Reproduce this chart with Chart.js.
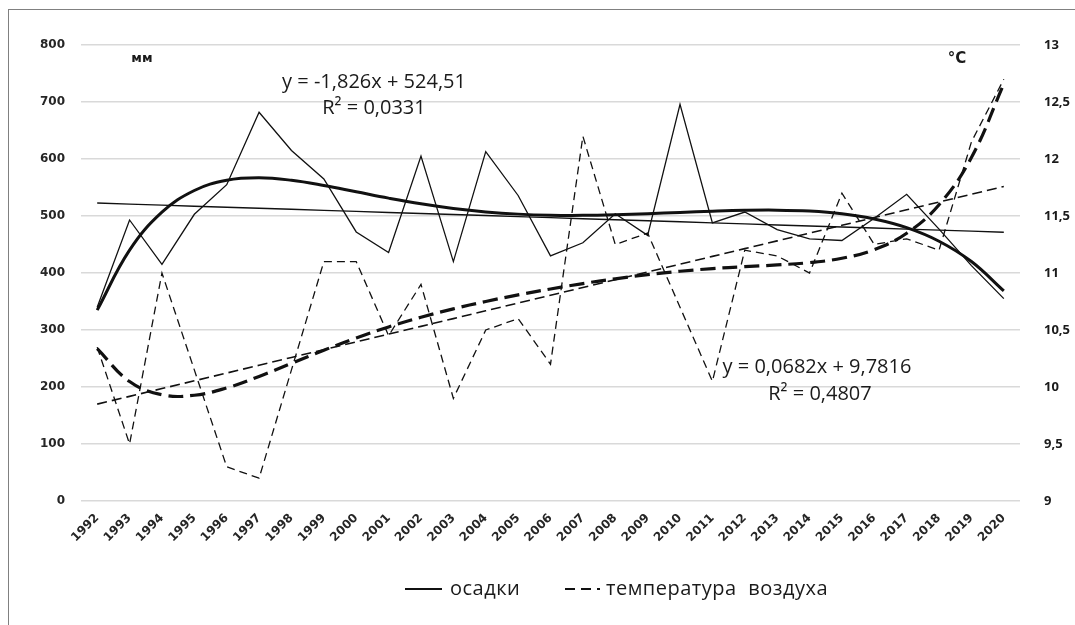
<!DOCTYPE html>
<html>
<head>
<meta charset="utf-8">
<script src="https://cdn.jsdelivr.net/npm/chart.js@4"></script>
<style>
  body { margin: 0; background: #fff; }
  #wrap { position: relative; width: 1075px; height: 625px; overflow: hidden; }
  #frame { position: absolute; left: 8px; top: 9px; width: 1100px; height: 650px; border: 1.5px solid #808080; }
  #myChart { position: absolute; left: 0; top: 0; }
</style>
</head>
<body>
<div id="wrap">
  <div id="frame"></div>
  <canvas id="myChart" width="1075" height="625"></canvas>
</div>
<script>
// years and yearly values
const years = ['1992', '1993', '1994', '1995', '1996', '1997', '1998', '1999', '2000', '2001',
  '2002', '2003', '2004', '2005', '2006', '2007', '2008', '2009', '2010', '2011',
  '2012', '2013', '2014', '2015', '2016', '2017', '2018', '2019', '2020'];
const precipitation = [340, 493, 415, 503, 555, 682, 615, 565, 472, 436,
  605, 420, 613, 536, 430, 453, 504, 466, 696, 488,
  507, 476, 460, 457, 496, 538, 477, 413, 355];
const temperature = [10.35, 9.5, 11.0, 10.15, 9.3, 9.2, 10.15, 11.1, 11.1, 10.45,
  10.9, 9.9, 10.5, 10.6, 10.2, 12.2, 11.25, 11.35, 10.7, 10.05,
  11.2, 11.15, 11.0, 11.7, 11.25, 11.3, 11.2, 12.15, 12.7];

// linear trends (x = 1..29)
const precipLinear = { slope: -1.826, intercept: 524.51, r2: 0.0331 };
const tempLinear = { slope: 0.0682, intercept: 9.7816, r2: 0.4807 };
const polyDegree = 6;

const FONT = '"Open Sans", "DejaVu Sans", sans-serif';

function comma(v) {
  return String(v).replace('.', ',');
}

// least squares polynomial, x scaled to [-1, 1]
function polyFit(xs, ys, deg) {
  const n = xs.length;
  const x0 = (xs[0] + xs[n - 1]) / 2, h = (xs[n - 1] - xs[0]) / 2;
  const m = deg + 1;
  const A = [];
  for (let i = 0; i < m; i++) A.push(new Array(m + 1).fill(0));
  for (let k = 0; k < n; k++) {
    const u = (xs[k] - x0) / h;
    const p = [];
    for (let j = 0; j < m; j++) p.push(Math.pow(u, j));
    for (let i = 0; i < m; i++) {
      for (let j = 0; j < m; j++) A[i][j] += p[i] * p[j];
      A[i][m] += p[i] * ys[k];
    }
  }
  for (let c = 0; c < m; c++) {
    let piv = c;
    for (let r = c + 1; r < m; r++) if (Math.abs(A[r][c]) > Math.abs(A[piv][c])) piv = r;
    const tmp = A[c]; A[c] = A[piv]; A[piv] = tmp;
    for (let r = 0; r < m; r++) {
      if (r === c) continue;
      const f = A[r][c] / A[c][c];
      for (let j = c; j <= m; j++) A[r][j] -= f * A[c][j];
    }
  }
  const coef = A.map((row, i) => row[m] / row[i]);
  return x => {
    const u = (x - x0) / h;
    let s = 0;
    for (let j = 0; j < m; j++) s += coef[j] * Math.pow(u, j);
    return s;
  };
}

const idx = years.map((y, i) => i + 1);
const precipPoly = polyFit(idx, precipitation, polyDegree);
const tempPoly = polyFit(idx, temperature, polyDegree);

const lineBase = { pointRadius: 0, pointHoverRadius: 0, fill: false, borderColor: '#111', backgroundColor: '#111' };

// equation labels, "мм" / "°С" captions and the legend
const extras = {
  id: 'extras',
  afterDraw(chart) {
    const ctx = chart.ctx;
    ctx.save();
    ctx.fillStyle = '#1a1a1a';
    ctx.textAlign = 'center';
    ctx.textBaseline = 'middle';

    ctx.font = 'bold 13px "DejaVu Sans", sans-serif';
    ctx.fillText('мм', 142, 59);
    ctx.font = 'bold 15px "DejaVu Sans", sans-serif';
    ctx.fillText('°С', 957, 59);

    ctx.font = '20px ' + FONT;
    ctx.fillText(`y = ${comma(precipLinear.slope)}x + ${comma(precipLinear.intercept)}`, 374, 82);
    ctx.fillText(`R² = ${comma(precipLinear.r2)}`, 374, 108);
    ctx.fillText(`y = ${comma(tempLinear.slope)}x + ${comma(tempLinear.intercept)}`, 817, 367);
    ctx.fillText(`R² = ${comma(tempLinear.r2)}`, 820, 394);

    // legend
    const ly = 589;
    ctx.strokeStyle = '#111';
    ctx.lineWidth = 2;
    ctx.beginPath(); ctx.moveTo(405, ly); ctx.lineTo(442, ly); ctx.stroke();
    ctx.setLineDash([10, 6]);
    ctx.beginPath(); ctx.moveTo(565, ly); ctx.lineTo(600, ly); ctx.stroke();
    ctx.setLineDash([]);
    ctx.font = '20px ' + FONT;
    ctx.letterSpacing = '0.5px';
    ctx.wordSpacing = '6px';
    ctx.textAlign = 'left';
    ctx.fillText(chart.data.datasets[0].label, 450, ly);
    ctx.fillText(chart.data.datasets[1].label, 606, ly);
    ctx.restore();
  }
};

const ctx = document.getElementById('myChart');
new Chart(ctx, {
  type: 'line',
  data: {
    labels: years,
    datasets: [
      Object.assign({}, lineBase, {
        label: 'осадки', data: precipitation, yAxisID: 'y', borderWidth: 1.3, tension: 0
      }),
      Object.assign({}, lineBase, {
        label: 'температура воздуха', data: temperature, yAxisID: 'y1', borderWidth: 1.3,
        borderDash: [8, 5], tension: 0
      }),
      Object.assign({}, lineBase, {
        label: 'linear precip', data: idx.map(x => precipLinear.slope * x + precipLinear.intercept),
        yAxisID: 'y', borderWidth: 1.4, tension: 0
      }),
      Object.assign({}, lineBase, {
        label: 'linear temp', data: idx.map(x => tempLinear.slope * x + tempLinear.intercept),
        yAxisID: 'y1', borderWidth: 1.6, borderDash: [10, 5], tension: 0
      }),
      Object.assign({}, lineBase, {
        label: 'poly precip', data: idx.map(precipPoly),
        yAxisID: 'y', borderWidth: 3, tension: 0.4
      }),
      Object.assign({}, lineBase, {
        label: 'poly temp', data: idx.map(tempPoly),
        yAxisID: 'y1', borderWidth: 3.2, borderDash: [15, 7], tension: 0.4
      })
    ]
  },
  options: {
    responsive: false,
    animation: false,
    layout: { padding: { top: 45, bottom: 64, left: 0, right: 0 } },
    plugins: {
      legend: { display: false },
      tooltip: { enabled: false }
    },
    scales: {
      x: {
        offset: true,
        grid: { display: false, offset: true },
        border: { display: false },
        ticks: {
          autoSkip: false, maxRotation: 45, minRotation: 45, padding: 2,
          color: '#262626', font: { family: '"DejaVu Sans", sans-serif', size: 12, weight: 'bold' }
        },
        afterFit: s => { s.height = 60; }
      },
      y: {
        position: 'left', min: 0, max: 800,
        grid: { color: '#d9d9d9', lineWidth: 1.5, drawTicks: false },
        border: { display: false },
        ticks: {
          stepSize: 100, padding: 16, color: '#262626',
          font: { family: '"DejaVu Sans", sans-serif', size: 12, weight: 'bold' }
        },
        afterFit: s => { s.width = 81; }
      },
      y1: {
        position: 'right', min: 9, max: 13,
        grid: { display: false },
        border: { display: false },
        ticks: {
          stepSize: 0.5, padding: 16, color: '#1a1a1a',
          callback: v => comma(v),
          font: { family: '"Open Sans", sans-serif', size: 13, weight: 'bold' }
        },
        afterFit: s => { s.width = 55; }
      }
    }
  },
  plugins: [extras]
});
</script>
</body>
</html>
